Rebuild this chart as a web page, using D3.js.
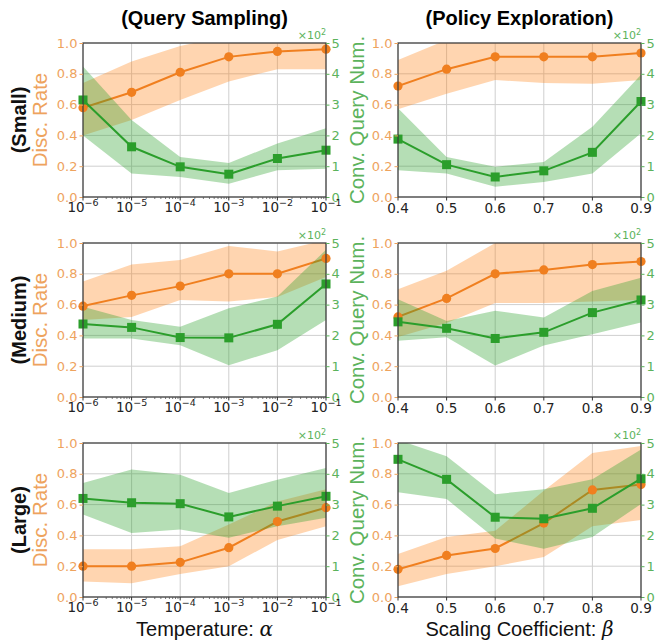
<!DOCTYPE html>
<html>
<head>
<meta charset="utf-8">
<script src="https://cdn.jsdelivr.net/npm/d3@7"></script>
<style>
body { margin: 0; background: #fff; }
</style>
</head>
<body>
<div id="chart"></div>
<script>
// x values for the two columns
var alphaValues = [1e-6, 1e-5, 1e-4, 1e-3, 1e-2, 1e-1];
var betaValues = [0.4, 0.5, 0.6, 0.7, 0.8, 0.9];
var columnTitles = ["(Query Sampling)", "(Policy Exploration)"];
var columnLabels = ["Temperature: ", "Scaling Coefficient: "];
var columnSymbols = ["\u03b1", "\u03b2"];
var rowNames = ["(Small)", "(Medium)", "(Large)"];
var discTicks = [0, 0.2, 0.4, 0.6, 0.8, 1.0];
var queryTicks = [0, 1, 2, 3, 4, 5];

// panel order: small-alpha, small-beta, medium-alpha, medium-beta, large-alpha, large-beta
var discMean = [
    [0.58, 0.68, 0.81, 0.91, 0.945, 0.96],
    [0.72, 0.83, 0.91, 0.91, 0.91, 0.935],
    [0.59, 0.66, 0.72, 0.80, 0.80, 0.90],
    [0.52, 0.64, 0.80, 0.825, 0.86, 0.88],
    [0.20, 0.20, 0.225, 0.32, 0.49, 0.58],
    [0.18, 0.27, 0.315, 0.48, 0.695, 0.73]
];
var discLow = [
    [0.40, 0.50, 0.63, 0.75, 0.83, 0.83],
    [0.57, 0.67, 0.76, 0.74, 0.735, 0.76],
    [0.50, 0.52, 0.63, 0.62, 0.65, 0.78],
    [0.39, 0.48, 0.61, 0.61, 0.62, 0.63],
    [0.10, 0.09, 0.15, 0.20, 0.37, 0.46],
    [0.07, 0.15, 0.20, 0.26, 0.46, 0.50]
];
var discHigh = [
    [0.74, 0.88, 0.98, 1.05, 1.06, 1.08],
    [0.89, 1.02, 1.05, 1.05, 1.05, 1.06],
    [0.75, 0.86, 0.89, 0.98, 0.945, 1.02],
    [0.70, 0.82, 1.0, 1.05, 1.06, 1.06],
    [0.31, 0.31, 0.33, 0.47, 0.62, 0.70],
    [0.28, 0.39, 0.43, 0.69, 0.935, 0.98]
];
// conv. query number, in units of 10^2
var queryMean = [
    [3.15, 1.63, 0.98, 0.74, 1.25, 1.52],
    [1.88, 1.05, 0.65, 0.85, 1.45, 3.1],
    [2.37, 2.26, 1.93, 1.92, 2.36, 3.67],
    [2.44, 2.23, 1.9, 2.1, 2.74, 3.15],
    [3.2, 3.06, 3.03, 2.6, 2.95, 3.27],
    [4.47, 3.82, 2.59, 2.54, 2.88, 3.84]
];
var queryLow = [
    [2.0, 0.76, 0.65, 0.43, 0.87, 0.92],
    [0.87, 0.76, 0.33, 0.49, 0.76, 2.07],
    [1.9, 1.9, 1.68, 1.03, 1.52, 2.5],
    [1.83, 1.94, 1.02, 1.67, 2.04, 2.42],
    [2.68, 2.08, 2.19, 1.92, 2.3, 2.57],
    [3.4, 3.18, 1.9, 1.57, 1.95, 3.02]
];
var queryHigh = [
    [4.24, 2.5, 1.3, 1.1, 1.74, 2.23],
    [2.88, 1.3, 0.98, 1.14, 2.28, 3.97],
    [2.93, 2.5, 2.28, 2.88, 3.26, 4.78],
    [3.17, 2.47, 2.8, 2.58, 3.44, 3.87],
    [3.7, 4.14, 3.97, 3.38, 3.81, 4.19],
    [5.1, 4.57, 3.34, 3.5, 3.82, 4.79]
];

var orange = "#f07f1f", orangeText = "#eea35e";
var green = "#2b9e2b", greenText = "#5cb35c";

var W = 667, H = 643;
var colX = [83, 398], rowY = [43, 243, 443];
var pw = 243, ph = 154;

var svg = d3.select("#chart")
    .append("svg")
    .attr("width", W)
    .attr("height", H)
    .style("font-family", "'DejaVu Sans', sans-serif");

var yDisc = d3.scaleLinear().domain([0, 1]).range([ph, 0]);
var yQuery = d3.scaleLinear().domain([0, 5]).range([ph, 0]);

// column titles
columnTitles.forEach(function(t, c) {
    svg.append("text")
        .attr("x", colX[c] + pw / 2)
        .attr("y", 25)
        .attr("text-anchor", "middle")
        .style("font-family", "'Liberation Sans', Arial, sans-serif")
        .style("font-weight", "bold")
        .style("font-size", "20px")
        .text(t);
});

for (var r = 0; r < 3; r++) {
    for (var c = 0; c < 2; c++) {
        var idx = r * 2 + c;
        var xs = c === 0 ? alphaValues : betaValues;
        var x = c === 0
            ? d3.scaleLog().domain([1e-6, 1e-1]).range([0, pw])
            : d3.scaleLinear().domain([0.4, 0.9]).range([0, pw]);

        var g = svg.append("g")
            .attr("transform", "translate(" + colX[c] + "," + rowY[r] + ")");

        g.append("clipPath").attr("id", "clip" + idx)
            .append("rect").attr("width", pw).attr("height", ph);

        // grid
        g.selectAll(".vg").data(xs).enter().append("line")
            .attr("x1", function(d) { return x(d); })
            .attr("x2", function(d) { return x(d); })
            .attr("y1", 0).attr("y2", ph)
            .style("stroke", "#cfcfcf").style("stroke-width", 1);
        g.selectAll(".hg").data(discTicks).enter().append("line")
            .attr("x1", 0).attr("x2", pw)
            .attr("y1", function(d) { return yDisc(d); })
            .attr("y2", function(d) { return yDisc(d); })
            .style("stroke", "#cfcfcf").style("stroke-width", 1);

        var plot = g.append("g").attr("clip-path", "url(#clip" + idx + ")");

        // disc rate (orange)
        var dBand = xs.map(function(v, i) { return [v, discLow[idx][i], discHigh[idx][i]]; });
        plot.append("path")
            .datum(dBand)
            .attr("d", d3.area()
                .x(function(d) { return x(d[0]); })
                .y0(function(d) { return yDisc(d[1]); })
                .y1(function(d) { return yDisc(d[2]); }))
            .style("fill", "#ff7f0e").style("opacity", 0.33);
        plot.append("path")
            .datum(xs.map(function(v, i) { return [v, discMean[idx][i]]; }))
            .attr("d", d3.line()
                .x(function(d) { return x(d[0]); })
                .y(function(d) { return yDisc(d[1]); }))
            .style("fill", "none").style("stroke", orange).style("stroke-width", 2);
        g.selectAll(".dot").data(xs).enter().append("circle")
            .attr("cx", function(d) { return x(d); })
            .attr("cy", function(d, i) { return yDisc(discMean[idx][i]); })
            .attr("r", 4.6)
            .style("fill", orange);

        // query number (green)
        var qBand = xs.map(function(v, i) { return [v, queryLow[idx][i], queryHigh[idx][i]]; });
        plot.append("path")
            .datum(qBand)
            .attr("d", d3.area()
                .x(function(d) { return x(d[0]); })
                .y0(function(d) { return yQuery(d[1]); })
                .y1(function(d) { return yQuery(d[2]); }))
            .style("fill", "#2ca02c").style("opacity", 0.35);
        g.append("path")
            .datum(xs.map(function(v, i) { return [v, queryMean[idx][i]]; }))
            .attr("d", d3.line()
                .x(function(d) { return x(d[0]); })
                .y(function(d) { return yQuery(d[1]); }))
            .style("fill", "none").style("stroke", green).style("stroke-width", 2);
        g.selectAll(".sq").data(xs).enter().append("rect")
            .attr("x", function(d) { return x(d) - 4.5; })
            .attr("y", function(d, i) { return yQuery(queryMean[idx][i]) - 4.5; })
            .attr("width", 9).attr("height", 9)
            .style("fill", green);

        // frame
        g.append("rect")
            .attr("width", pw).attr("height", ph)
            .style("fill", "none").style("stroke", "#3a3a3a").style("stroke-width", 1.2);

        // left axis
        var la = g.append("g").call(d3.axisLeft(yDisc).tickValues(discTicks)
            .tickFormat(d3.format(".1f")).tickSize(3.5).tickPadding(2));
        la.select(".domain").remove();
        la.selectAll("line").style("stroke", orangeText);
        la.selectAll("text").style("fill", orangeText).style("font-size", "13px")
            .style("font-family", "'DejaVu Sans', sans-serif");

        // right axis
        var ra = g.append("g").attr("transform", "translate(" + pw + ",0)")
            .call(d3.axisRight(yQuery).tickValues(queryTicks)
                .tickFormat(d3.format("d")).tickSize(3.5).tickPadding(2));
        ra.select(".domain").remove();
        ra.selectAll("line").style("stroke", greenText);
        ra.selectAll("text").style("fill", greenText).style("font-size", "13px")
            .style("font-family", "'DejaVu Sans', sans-serif");

        // x10^2 offset label
        var off = g.append("text")
            .attr("x", pw).attr("y", -4)
            .attr("text-anchor", "end")
            .style("fill", greenText).style("font-size", "11px");
        off.append("tspan").text("\u00d710");
        off.append("tspan").attr("dy", -4).style("font-size", "8px").text("2");

        // bottom axis
        var bx = g.append("g").attr("transform", "translate(0," + ph + ")");
        if (c === 0) {
            var minors = [];
            for (var e = -6; e < -1; e++) {
                for (var m = 2; m <= 9; m++) minors.push(m * Math.pow(10, e));
            }
            bx.selectAll(".mn").data(minors).enter().append("line")
                .attr("x1", function(d) { return x(d); })
                .attr("x2", function(d) { return x(d); })
                .attr("y1", 0).attr("y2", 2)
                .style("stroke", "#555").style("stroke-width", 0.8);
            var lt = bx.selectAll(".lt").data(xs).enter().append("text")
                .attr("x", function(d) { return x(d); })
                .attr("y", 15)
                .attr("text-anchor", "middle")
                .style("fill", "#222").style("font-size", "13.5px");
            lt.append("tspan").text("10");
            lt.append("tspan").attr("dy", -6).style("font-size", "9.5px")
                .text(function(d) { return "\u2212" + Math.round(-Math.log10(d)); });
        } else {
            bx.selectAll(".lt").data(xs).enter().append("text")
                .attr("x", function(d) { return x(d); })
                .attr("y", 16)
                .attr("text-anchor", "middle")
                .style("fill", "#222").style("font-size", "13.5px")
                .text(function(d) { return d3.format(".1f")(d); });
        }
        bx.selectAll(".mj").data(xs).enter().append("line")
            .attr("x1", function(d) { return x(d); })
            .attr("x2", function(d) { return x(d); })
            .attr("y1", 0).attr("y2", 3.5)
            .style("stroke", "#333");

        if (c === 0) {
            // right axis title (the right column's one falls outside the picture)
            g.append("text")
                .attr("transform", "translate(" + (pw + 38) + "," + (ph / 2) + ") rotate(-90)")
                .attr("text-anchor", "middle")
                .style("font-family", "'Liberation Sans', Arial, sans-serif")
                .style("font-size", "20.5px")
                .style("fill", greenText)
                .text("Conv. Query Num.");
            g.append("text")
                .attr("transform", "translate(-36," + (ph / 2) + ") rotate(-90)")
                .attr("text-anchor", "middle")
                .style("font-family", "'Liberation Sans', Arial, sans-serif")
                .style("font-size", "20.5px")
                .style("fill", orangeText)
                .text("Disc. Rate");
            g.append("text")
                .attr("transform", "translate(-57," + (ph / 2) + ") rotate(-90)")
                .attr("text-anchor", "middle")
                .style("font-family", "'Liberation Sans', Arial, sans-serif")
                .style("font-size", "20px")
                .style("font-weight", "bold")
                .style("fill", "#111")
                .text(rowNames[r]);
        }

        if (r === 2) {
            var xl = g.append("text")
                .attr("x", pw / 2)
                .attr("y", ph + 39)
                .attr("text-anchor", "middle")
                .style("font-family", "'Liberation Sans', Arial, sans-serif")
                .style("font-size", "20px")
                .style("fill", "#111");
            xl.append("tspan").text(columnLabels[c]);
            xl.append("tspan").style("font-style", "italic")
                .style("font-family", "'DejaVu Serif', serif").text(columnSymbols[c]);
        }
    }
}
</script>
</body>
</html>
